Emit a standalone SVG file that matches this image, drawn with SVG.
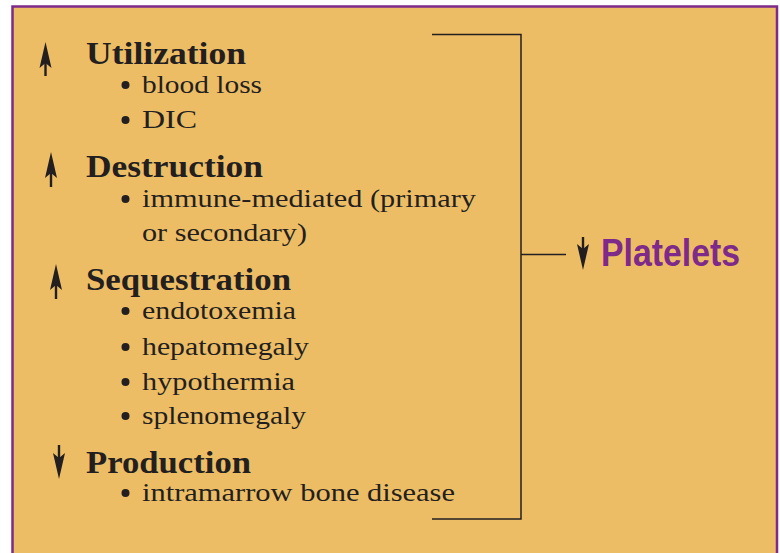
<svg xmlns="http://www.w3.org/2000/svg" width="780" height="553" viewBox="0 0 780 553">
<defs>
<style>
.h{font-family:"Liberation Serif","Times New Roman",serif;font-weight:bold;font-size:32px;fill:#231f20}
.s{font-family:"Liberation Serif","Times New Roman",serif;font-size:26px;fill:#231f20}
.p{font-family:"Liberation Sans",Arial,sans-serif;font-weight:bold;font-size:38px;fill:#7e2a8a}
.ln{stroke:#231f20;stroke-width:1.5;fill:none}
.sh{stroke:#231f20;stroke-width:2.4}
.b{fill:#231f20}
</style>
<path id="up" d="M0,0 L6,26 L0,21 L-6,26 Z" fill="#231f20"/>
<path id="dn" d="M0,0 L6,-26 L0,-21 L-6,-26 Z" fill="#231f20"/>
</defs>
<rect x="0" y="0" width="780" height="553" fill="#ffffff"/>
<rect x="12.5" y="6.5" width="764.5" height="560" fill="#edbd65" stroke="#7e2a8a" stroke-width="2.5"/>
<g id="connectors">
<path class="ln" d="M432,34.5 H521 V519 H432"/>
<path class="ln" d="M521,254.5 H566"/>
</g>
<g id="utilization">
<line class="sh" x1="45.5" y1="55" x2="45.5" y2="76"/>
<use href="#up" x="45.5" y="42"/>
<text class="h" x="86" y="64" textLength="160" lengthAdjust="spacingAndGlyphs">Utilization</text>
<circle class="b" cx="125.5" cy="85" r="4"/>
<text class="s" x="142" y="93" textLength="120" lengthAdjust="spacingAndGlyphs">blood loss</text>
<circle class="b" cx="125.5" cy="120" r="4"/>
<text class="s" x="142" y="128" textLength="55" lengthAdjust="spacingAndGlyphs">DIC</text>
</g>
<g id="destruction">
<line class="sh" x1="51" y1="165" x2="51" y2="187"/>
<use href="#up" x="51" y="152"/>
<text class="h" x="86" y="177" textLength="177" lengthAdjust="spacingAndGlyphs">Destruction</text>
<circle class="b" cx="125.5" cy="199" r="4"/>
<text class="s" x="142" y="207" textLength="334" lengthAdjust="spacingAndGlyphs">immune-mediated (primary</text>
<text class="s" x="142" y="241" textLength="165" lengthAdjust="spacingAndGlyphs">or secondary)</text>
</g>
<g id="sequestration">
<line class="sh" x1="56" y1="277" x2="56" y2="299"/>
<use href="#up" x="56" y="264"/>
<text class="h" x="86" y="290" textLength="205" lengthAdjust="spacingAndGlyphs">Sequestration</text>
<circle class="b" cx="125.5" cy="311" r="4"/>
<text class="s" x="142" y="319" textLength="154" lengthAdjust="spacingAndGlyphs">endotoxemia</text>
<circle class="b" cx="125.5" cy="347" r="4"/>
<text class="s" x="142" y="355" textLength="167" lengthAdjust="spacingAndGlyphs">hepatomegaly</text>
<circle class="b" cx="125.5" cy="382" r="4"/>
<text class="s" x="142" y="390" textLength="153" lengthAdjust="spacingAndGlyphs">hypothermia</text>
<circle class="b" cx="125.5" cy="416" r="4"/>
<text class="s" x="142" y="424" textLength="164" lengthAdjust="spacingAndGlyphs">splenomegaly</text>
</g>
<g id="production">
<line class="sh" x1="59" y1="445" x2="59" y2="466"/>
<use href="#dn" x="59" y="479"/>
<text class="h" x="86" y="473" textLength="165" lengthAdjust="spacingAndGlyphs">Production</text>
<circle class="b" cx="125.5" cy="493" r="4"/>
<text class="s" x="142" y="501" textLength="313" lengthAdjust="spacingAndGlyphs">intramarrow bone disease</text>
</g>
<g id="platelets">
<line class="sh" x1="583" y1="237" x2="583" y2="258"/>
<use href="#dn" x="583" y="270"/>
<text class="p" x="601" y="266" textLength="139" lengthAdjust="spacingAndGlyphs">Platelets</text>
</g>
</svg>
